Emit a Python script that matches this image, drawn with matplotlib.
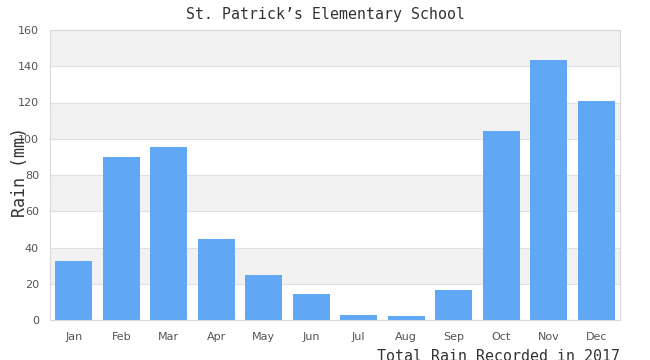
import matplotlib
matplotlib.use("Agg")
import matplotlib.pyplot as plt
import numpy as np

months = ["Jan", "Feb", "Mar", "Apr", "May", "Jun", "Jul", "Aug", "Sep", "Oct", "Nov", "Dec"]
rain = [32.5, 90, 95.4, 44.7, 24.8, 14.3, 2.6, 2.0, 16.5, 104.3, 143.4, 120.8]
yticks = [0, 20, 40, 60, 80, 100, 120, 140, 160]

fig = plt.figure(figsize=(6.5, 3.6), dpi=100)
ax = fig.add_axes([50 / 650, 40 / 360, 570 / 650, 290 / 360])

# alternating bands
for lo in range(20, 160, 40):
    ax.axhspan(lo, lo + 20, color="#f2f2f2", zorder=0, lw=0)
for t in yticks:
    ax.axhline(t, color="#e0e0e0", lw=0.8, zorder=1)

x = np.arange(len(months))
ax.bar(x, rain, width=0.78, color="#60a8f5", zorder=2)

ax.set_xlim(-0.5, len(months) - 0.5)
ax.set_ylim(0, 160)
ax.set_yticks(yticks)
ax.set_xticks(x)
ax.set_xticklabels(months)
ax.tick_params(axis="both", length=0, labelsize=8, colors="#555555")
ax.tick_params(axis="x", pad=9)
ax.tick_params(axis="y", pad=8)
for s in ax.spines.values():
    s.set_color("#d8d8d8")
    s.set_linewidth(0.8)

fig.text(20 / 650, 1 - 172 / 360, "Rain (mm)", family="DejaVu Sans Mono", fontsize=12,
         color="#333333", rotation=90, ha="center", va="center")
fig.text(0.5, 1 - 14 / 360, "St. Patrick\u2019s Elementary School", family="DejaVu Sans Mono",
         fontsize=10.7, color="#333333", ha="center", va="center")
fig.text(620 / 650, 1 - 349 / 360, "Total Rain Recorded in 2017", family="DejaVu Sans Mono",
         fontsize=10.8, color="#333333", ha="right", va="top")

fig.savefig("out.png", dpi=100)
